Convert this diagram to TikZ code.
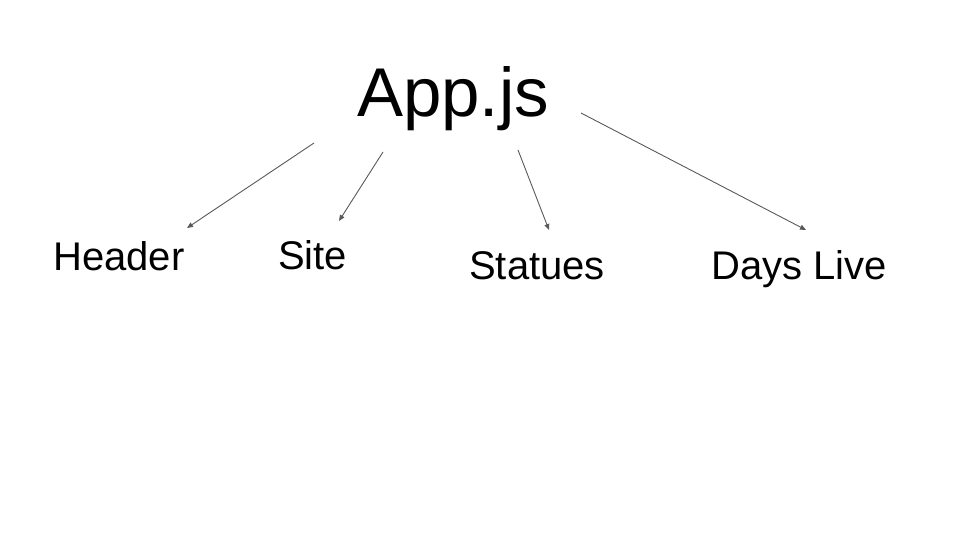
\documentclass[tikz,border=0pt]{standalone}
\usepackage{fontspec}
\setmainfont{Liberation Sans}
\usetikzlibrary{arrows.meta}
\begin{document}
\begin{tikzpicture}[x=1pt,y=1pt,
  lbl/.style={inner sep=0pt,anchor=base west,font=\fontsize{40}{45}\selectfont},
  conn/.style={draw=black!65,line width=0.9pt,-{Triangle[length=6pt,width=5pt]}}]
\useasboundingbox (0,0) rectangle (960,540);
\node[inner sep=0pt,anchor=base west,font=\fontsize{69}{78}\selectfont] (app) at (357,423) {App.js};
\node[lbl] (header) at (53,269) {Header};
\node[lbl] (site) at (278,270) {Site};
\node[lbl] (statues) at (469,260) {Statues};
\node[lbl] (days) at (711,260) {Days Live};
\coordinate (a1) at (314,397);
\coordinate (a2) at (383,388);
\coordinate (a3) at (518,390);
\coordinate (a4) at (581,427);
\coordinate (h) at (187,312);
\coordinate (s) at (339,319);
\coordinate (t) at (549,310);
\coordinate (d) at (806,310);
\draw[conn] (a1) -- (h);
\draw[conn] (a2) -- (s);
\draw[conn] (a3) -- (t);
\draw[conn] (a4) -- (d);
\end{tikzpicture}
\end{document}
